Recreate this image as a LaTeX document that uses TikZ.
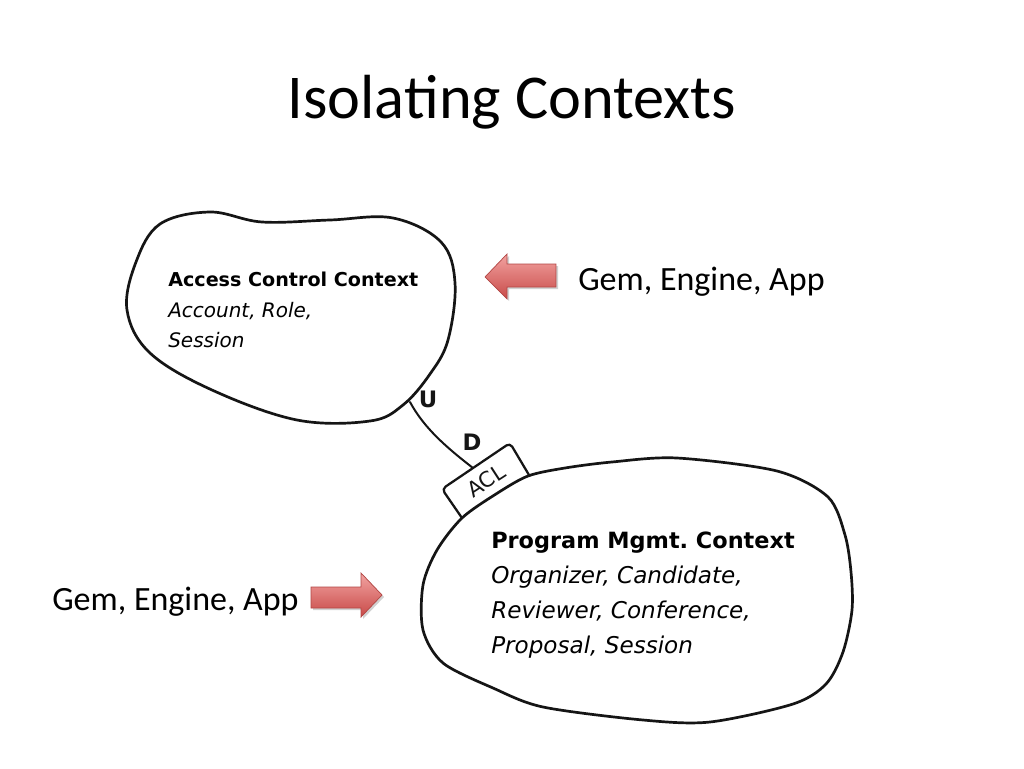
\documentclass[tikz,border=0pt]{standalone}
\usepackage{fontspec}
\setmainfont{Carlito}
\newfontfamily\vfont{DejaVu Sans}
\definecolor{inkc}{HTML}{151515}
\definecolor{arrtop}{HTML}{F2A3A1}
\definecolor{arrbot}{HTML}{C84A48}
\definecolor{arredge}{HTML}{B24644}
\tikzset{
  blobline/.style={draw=inkc, line width=1.9pt, line join=round},
  thinink/.style={draw=inkc, line width=1.4pt, line cap=round, line join=round},
  redarrow/.style={top color=arrtop, bottom color=arrbot, draw=arredge, line width=0.5pt},
  arrshadow/.style={fill=black!18},
  titlefont/.style={font=\fontsize{44}{52}\selectfont},
  gemfont/.style={font=\fontsize{24}{28}\selectfont},
  hbold/.style={font=\vfont\bfseries\fontsize{13.5}{16}\selectfont},
  hital/.style={font=\vfont\itshape\fontsize{14.1}{16}\selectfont},
  pbold/.style={font=\vfont\bfseries\fontsize{15.8}{19}\selectfont},
  pital/.style={font=\vfont\itshape\fontsize{16.3}{19}\selectfont},
  hand/.style={font=\vfont\bfseries\fontsize{16}{18}\selectfont, text=inkc, inner sep=0pt},
}
\begin{document}
\frenchspacing
\begin{tikzpicture}[x=0.0248046875cm,y=-0.0248046875cm]
\useasboundingbox (0,0) rectangle (1024,768);
\fill[white] (0,0) rectangle (1024,768);

% title
\node[titlefont, anchor=base, inner sep=0pt] (title) at (512,118) {Isolating Contexts};

% blob 1: Access Control Context
\draw[blobline] plot[smooth cycle, tension=0.6] coordinates {
 (210,212) (262,222) (330,220) (393,218) (441,242) (455,283) (448,340)
 (430,374) (403,405) (370,421) (297,420) (212,390) (150,353) (127,310)
 (136,262) (160,224)};

% blob 2: Program Mgmt. Context
\draw[blobline] plot[smooth cycle, tension=0.5] coordinates {
 (528,476) (565,468) (612,462) (677,458) (777,471) (828,497) (845,535)
 (851,572) (852,610) (843,652) (826,684) (793,704) (710,722) (643,720)
 (543,707) (493,688) (443,663) (423,630) (423,585) (437,550) (462,518) (496,494)};

% ACL box
\draw[blobline, line width=1.6pt, rounded corners=3pt] (462,518) -- (442,489) -- (510,443) -- (529,475);
\node[font=\vfont\fontsize{15}{18}\selectfont, text=inkc, rotate=33, inner sep=0pt] (acl) at (486,481) {ACL};

% U / D connector
\coordinate (u) at (410,402);
\coordinate (d) at (473,468);
\draw[thinink] (u) .. controls (424,428) and (446,447) .. (d);
\node[hand] (ulab) at (428,399) {U};
\node[hand] (dlab) at (472,442) {D};

% texts of blob 1
\node[hbold, anchor=base west, inner sep=0pt] (h1) at (168,286) {Access Control Context};
\node[hital, anchor=base west, inner sep=0pt] (h2) at (168,317) {Account, Role,};
\node[hital, anchor=base west, inner sep=0pt] (h3) at (168,347) {Session};

% texts of blob 2
\node[pbold, anchor=base west, inner sep=0pt] (p1) at (491,548) {Program Mgmt. Context};
\node[pital, anchor=base west, inner sep=0pt] (p2) at (491,583) {Organizer, Candidate,};
\node[pital, anchor=base west, inner sep=0pt] (p3) at (491,618) {Reviewer, Conference,};
\node[pital, anchor=base west, inner sep=0pt] (p4) at (491,653) {Proposal, Session};

% red arrows
\fill[arrshadow, shift={(2,2)}] (485,277) -- (507,254) -- (507,264) -- (556,264) -- (556,287) -- (507,287) -- (507,299) -- cycle;
\shade[redarrow] (485,277) -- (507,254) -- (507,264) -- (556,264) -- (556,287) -- (507,287) -- (507,299) -- cycle;
\fill[arrshadow, shift={(2,2)}] (311,587) -- (361,587) -- (361,573) -- (382,595) -- (361,617) -- (361,608) -- (311,608) -- cycle;
\shade[redarrow] (311,587) -- (361,587) -- (361,573) -- (382,595) -- (361,617) -- (361,608) -- (311,608) -- cycle;

% Gem labels
\node[gemfont, anchor=base west, inner sep=0pt] (gem1) at (578,290) {Gem, Engine, App};
\node[gemfont, anchor=base west, inner sep=0pt] (gem2) at (52,610) {Gem, Engine, App};
\end{tikzpicture}
\end{document}
